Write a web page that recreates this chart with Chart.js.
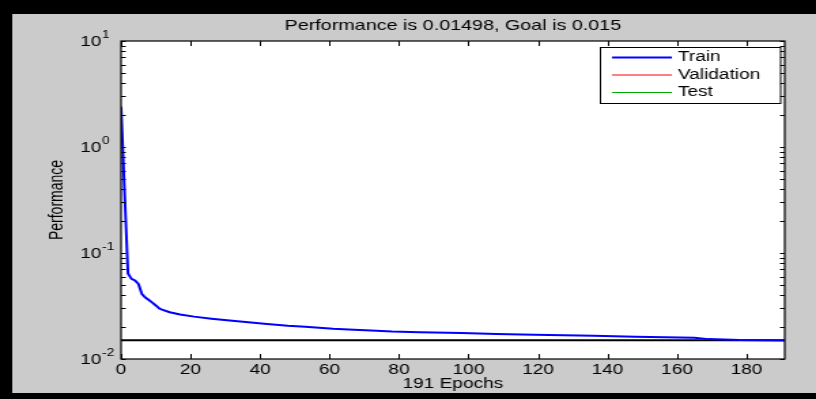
<!DOCTYPE html>
<html>
<head>
<meta charset="utf-8">
<script src="https://cdn.jsdelivr.net/npm/chart.js@4/dist/chart.umd.min.js"></script>
<style>
  html, body { margin: 0; padding: 0; background: #cbcbcb; overflow: hidden; }
</style>
</head>
<body>
<!-- the reference is stretched sideways, so draw narrow and let the inline style widen it -->
<canvas id="perfChart" width="600" height="399" style="display:block;width:816px;height:399px"></canvas>
<script>
// training record (epoch, performance)
var trainEpochs = [0, 1, 2, 3, 4, 5, 6, 7, 8, 9, 10, 11, 12, 14, 17, 21, 26, 32, 42, 48,
    53, 57, 61, 67, 72, 78, 86, 98, 108, 119, 136, 148, 165, 169, 178, 191];
var trainPerf = [2.4, 0.38, 0.064, 0.057, 0.055, 0.051, 0.041, 0.038, 0.036, 0.034, 0.032,
    0.030, 0.029, 0.0276, 0.0263, 0.0251, 0.0240, 0.0229, 0.0214, 0.0206,
    0.0202, 0.0197, 0.0193, 0.0189, 0.0186, 0.0182, 0.0179, 0.0176, 0.0172, 0.0169,
    0.0166, 0.0162, 0.0159, 0.0154, 0.0151, 0.01498];

// validation and test are only in the legend, nothing plotted
var valEpochs = [];
var valPerf = [];
var testEpochs = [];
var testPerf = [];

// goal line
var goalEpochs = [0, 191];
var goalPerf = [0.015, 0.015];

var titleText = "Performance is 0.01498, Goal is 0.015";
var xTitle = "191 Epochs";
var yTitle = "Performance";

var xTicks = [0, 20, 40, 60, 80, 100, 120, 140, 160, 180];
var yTicks = [0.01, 0.02, 0.03, 0.04, 0.05, 0.06, 0.07, 0.08, 0.09,
    0.1, 0.2, 0.3, 0.4, 0.5, 0.6, 0.7, 0.8, 0.9,
    1, 2, 3, 4, 5, 6, 7, 8, 9, 10];
var yMajor = [0.01, 0.1, 1, 10];
var yExp = ["-2", "-1", "0", "1"];

const FONT = "'Liberation Sans', Arial, sans-serif";

const toPoints = (xs, ys) => xs.map((x, i) => ({x: x, y: ys[i]}));

// grey figure with black frame, white axes
const backdrop = {
    id: 'backdrop',
    beforeDraw: (chart) => {
        let c = chart.ctx, a = chart.chartArea;
        let w = chart.canvas.width, h = chart.canvas.height;
        c.save();
        c.fillStyle = '#000';
        c.fillRect(0, 0, w, h);
        c.fillStyle = '#cbcbcb';
        c.fillRect(9, 14, w, h - 20);
        c.fillStyle = '#fff';
        c.fillRect(a.left, a.top, a.right - a.left, a.bottom - a.top);
        c.restore();
    }
};

// matlab style: box, inward ticks on all sides, 10^n labels
const axesBox = {
    id: 'axesBox',
    afterDraw: (chart) => {
        let c = chart.ctx, a = chart.chartArea;
        let xs = chart.scales.x, ys = chart.scales.y;
        c.save();
        c.strokeStyle = '#000';
        c.lineWidth = 1;
        c.beginPath();
        xs.ticks.forEach(t => {
            let px = Math.round(xs.getPixelForValue(t.value)) + 0.5;
            c.moveTo(px, a.bottom); c.lineTo(px, a.bottom - 5);
            c.moveTo(px, a.top); c.lineTo(px, a.top + 5);
        });
        ys.ticks.forEach(t => {
            let py = Math.round(ys.getPixelForValue(t.value)) + 0.5;
            c.moveTo(a.left, py); c.lineTo(a.left + 3.5, py);
            c.moveTo(a.right, py); c.lineTo(a.right - 3.5, py);
        });
        c.stroke();
        c.lineWidth = 1.2;
        c.strokeRect(a.left, a.top, a.right - a.left, a.bottom - a.top);

        // y labels with superscript exponent
        c.fillStyle = '#000';
        c.textBaseline = 'middle';
        c.textAlign = 'left';
        yMajor.forEach((v, i) => {
            let py = ys.getPixelForValue(v);
            let lx = a.left - 30;
            c.font = '14px ' + FONT;
            c.fillText('10', lx, py + 1);
            let w = c.measureText('10').width;
            c.font = '10px ' + FONT;
            c.fillText(yExp[i], lx + w + 0.5, py - 6);
        });

        // legend box in the upper right corner
        let items = chart.data.datasets.filter(d => d.inLegend);
        let bx = a.right - 136, by = a.top + 6, bw = 132.5, bh = 56;
        c.fillStyle = '#fff';
        c.fillRect(bx, by, bw, bh);
        c.lineWidth = 1;
        c.strokeStyle = '#000';
        c.strokeRect(bx + 0.5, by + 0.5, bw, bh);
        c.font = '14px ' + FONT;
        items.forEach((d, i) => {
            let ry = by + 10.5 + i * 17.5;
            c.strokeStyle = d.borderColor;
            c.lineWidth = d.borderWidth;
            c.beginPath();
            c.moveTo(bx + 9, ry);
            c.lineTo(bx + 53, ry);
            c.stroke();
            c.fillStyle = '#000';
            c.fillText(d.label, bx + 57.5, ry);
        });
        c.restore();
    }
};

var perfChart = new Chart(document.getElementById("perfChart"), {
    type: 'line',
    data: {
        datasets: [
            {
                label: 'Train',
                data: toPoints(trainEpochs, trainPerf),
                borderColor: '#0000ff',
                borderWidth: 2,
                inLegend: true
            },
            {
                label: 'Validation',
                data: toPoints(valEpochs, valPerf),
                borderColor: '#ff0000',
                borderWidth: 1,
                inLegend: true
            },
            {
                label: 'Test',
                data: toPoints(testEpochs, testPerf),
                borderColor: '#00aa00',
                borderWidth: 1,
                inLegend: true
            },
            {
                label: 'Goal',
                data: toPoints(goalEpochs, goalPerf),
                borderColor: '#000000',
                borderWidth: 2,
                inLegend: false
            }
        ]
    },
    options: {
        responsive: false,
        devicePixelRatio: 1,
        animation: false,
        elements: {
            point: { radius: 0 },
            line: { tension: 0, fill: false }
        },
        layout: {
            padding: { left: 20, right: 23, top: 14, bottom: 6 }
        },
        plugins: {
            legend: { display: false },
            tooltip: { enabled: false },
            title: {
                display: true,
                fullSize: false,
                text: titleText,
                color: '#000',
                font: { family: FONT, size: 14.5, weight: 'normal', lineHeight: 1.2 },
                padding: { top: 3, bottom: 6.6 }
            }
        },
        scales: {
            x: {
                type: 'linear',
                min: 0,
                max: 191,
                afterBuildTicks: (s) => { s.ticks = xTicks.map(v => ({value: v})); },
                afterFit: (s) => { s.height = 34; },
                grid: { display: false, drawTicks: false },
                border: { display: false },
                ticks: {
                    color: '#000',
                    padding: 3,
                    maxRotation: 0,
                    autoSkip: false,
                    font: { family: FONT, size: 14 }
                },
                title: {
                    display: true,
                    text: xTitle,
                    color: '#000',
                    font: { family: FONT, size: 14 },
                    padding: { top: 0, bottom: 0 }
                }
            },
            y: {
                type: 'logarithmic',
                min: 0.01,
                max: 10,
                afterBuildTicks: (s) => { s.ticks = yTicks.map(v => ({value: v})); },
                afterFit: (s) => { s.width = 69; },
                grid: { display: false, drawTicks: false },
                border: { display: false },
                ticks: { display: false },
                title: {
                    display: true,
                    text: yTitle,
                    color: '#000',
                    font: { family: FONT, size: 14 },
                    padding: { top: 13.5, bottom: 0 }
                }
            }
        }
    },
    plugins: [backdrop, axesBox]
});
</script>
</body>
</html>
